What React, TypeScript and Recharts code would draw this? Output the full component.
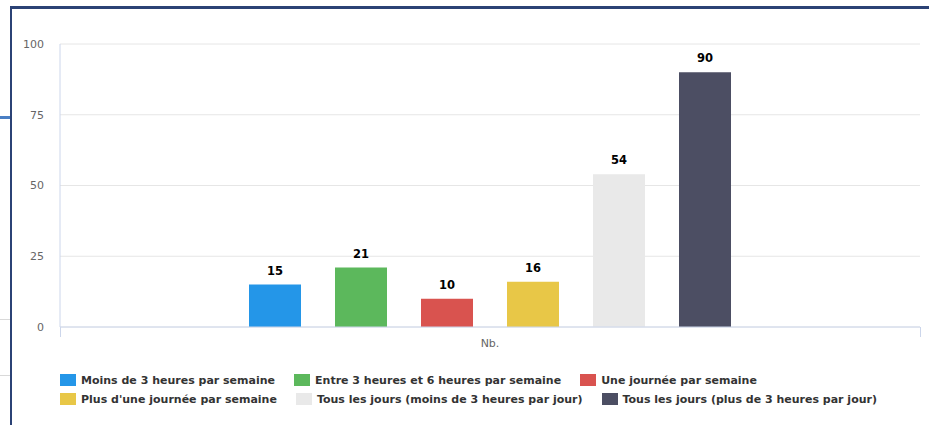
import { BarChart, Bar, XAxis, YAxis, CartesianGrid, LabelList } from "recharts";

const categories = ["Nb."];
const seriesNames = [
  "Moins de 3 heures par semaine",
  "Entre 3 heures et 6 heures par semaine",
  "Une journée par semaine",
  "Plus d'une journée par semaine",
  "Tous les jours (moins de 3 heures par jour)",
  "Tous les jours (plus de 3 heures par jour)",
];
const seriesValues = [15, 21, 10, 16, 54, 90];
const seriesColors = ["#2496e8", "#5cb85c", "#d9534f", "#e8c747", "#e9e9e9", "#4c4e63"];
const yTicks = [0, 25, 50, 75, 100];

const data = categories.map((name) => {
  const row: Record<string, string | number> = { name };
  seriesValues.forEach((v, i) => {
    row["s" + i] = v;
  });
  return row;
});

// legend rows, items flow left to right
const legendRows = [
  [0, 1, 2],
  [3, 4, 5],
];

const frame = "#2b4275";
const axisColor = "#ccd6eb";

function Legend() {
  return (
    <div style={{ position: "absolute", left: 60, top: 371 }}>
      {legendRows.map((row, r) => (
        <div key={r} style={{ display: "flex", height: 18, marginBottom: 1, alignItems: "center" }}>
          {row.map((i) => (
            <div key={i} style={{ display: "flex", alignItems: "center", marginRight: 19 }}>
              <div style={{ width: 16, height: 12, background: seriesColors[i], marginRight: 5 }} />
              <span style={{ fontSize: 11, fontWeight: "bold", color: "#333", whiteSpace: "nowrap" }}>
                {seriesNames[i]}
              </span>
            </div>
          ))}
        </div>
      ))}
    </div>
  );
}

export default function App() {
  return (
    <div
      style={{
        position: "absolute",
        left: 0,
        top: 0,
        width: 929,
        height: 425,
        background: "#fff",
        overflow: "hidden",
        fontFamily: "'DejaVu Sans', Verdana, sans-serif",
      }}
    >
      {/* page bits around the frame */}
      <div style={{ position: "absolute", left: 0, top: 116, width: 10, height: 3, background: "#4a7fc4" }} />
      <div style={{ position: "absolute", left: 0, top: 319, width: 10, height: 1, background: "#d9d9d9" }} />
      <div style={{ position: "absolute", left: 0, top: 375, width: 10, height: 1, background: "#d9d9d9" }} />
      <div style={{ position: "absolute", left: 10, top: 6, width: 919, height: 3, background: frame }} />
      <div style={{ position: "absolute", left: 10, top: 6, width: 2, height: 419, background: frame }} />

      <div style={{ position: "absolute", left: 0, top: 0 }}>
        <BarChart
          width={929}
          height={425}
          data={data}
          margin={{ top: 44, right: 9, bottom: 68, left: 20 }}
          barGap={34}
        >
          <CartesianGrid horizontal vertical={false} stroke="#e6e6e6" />
          <XAxis
            dataKey="name"
            height={30}
            axisLine={{ stroke: axisColor }}
            tickLine={false}
            tickSize={0}
            tickMargin={12}
            tick={{ fill: "#666", fontSize: 11 }}
          />
          <YAxis
            width={40}
            domain={[0, 100]}
            ticks={yTicks}
            axisLine={{ stroke: axisColor }}
            tickLine={false}
            tickSize={0}
            tickMargin={16}
            tick={{ fill: "#666", fontSize: 11 }}
          />
          {seriesNames.map((n, i) => (
            <Bar key={n} dataKey={"s" + i} name={n} fill={seriesColors[i]} barSize={52} isAnimationActive={false}>
              <LabelList
                dataKey={"s" + i}
                position="top"
                offset={10}
                fill="#000"
                fontSize={11.5}
                fontWeight="bold"
              />
            </Bar>
          ))}
        </BarChart>
      </div>

      {/* x-axis category boundary ticks */}
      <div style={{ position: "absolute", left: 60, top: 327, width: 1, height: 10, background: axisColor }} />
      <div style={{ position: "absolute", left: 920, top: 327, width: 1, height: 10, background: axisColor }} />

      <Legend />
    </div>
  );
}
